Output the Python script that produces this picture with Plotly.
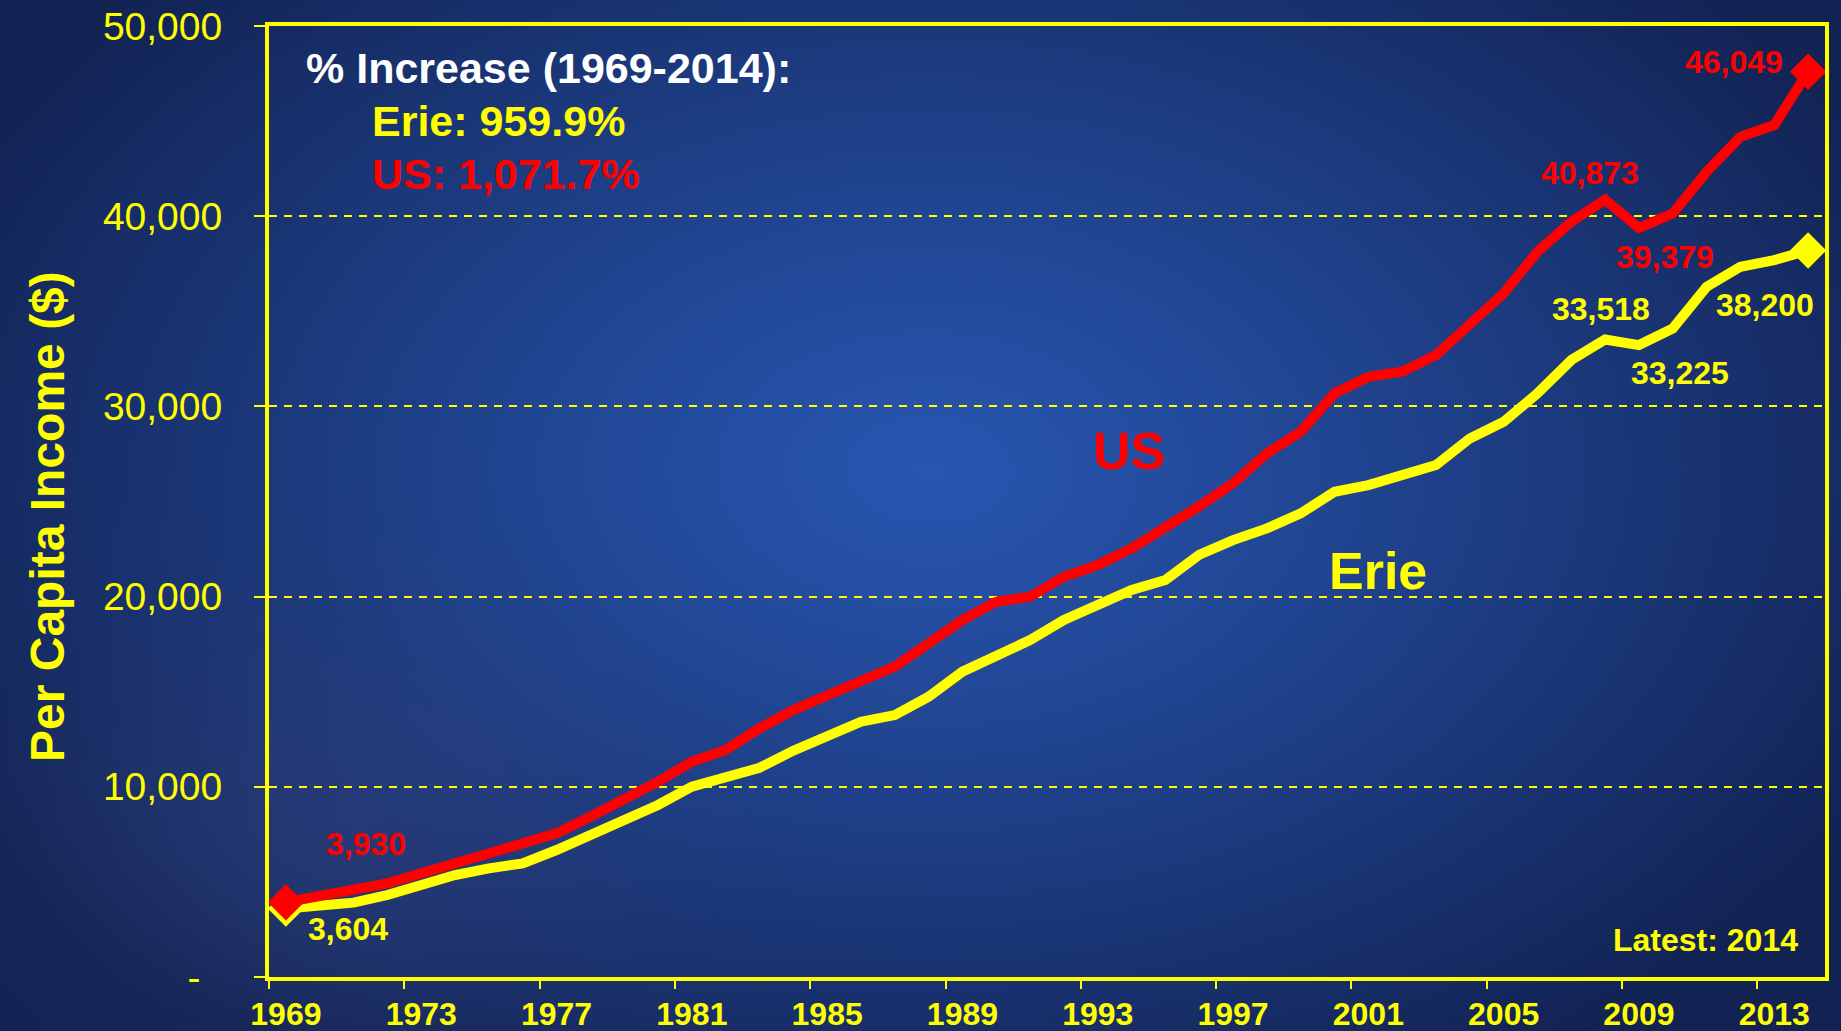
import base64, struct, zlib
import numpy as np
import plotly.graph_objects as go

# ---------------- data ----------------
years = list(range(1969, 2015))
us_income = [3930, 4258, 4521, 4924, 5450, 5975, 6413, 6939, 7552, 8429,
             9305, 10269, 11320, 11933, 13074, 14036, 14800, 15526, 16314, 17541,
             18767, 19731, 19994, 21045, 21659, 22535, 23587, 24750, 25953, 27530,
             28668, 30684, 31559, 31822, 32699, 34364, 35942, 38129, 39706, 40873,
             39379, 40147, 42337, 44175, 44790, 47593]
erie_income = [3604, 3697, 3908, 4310, 4836, 5362, 5713, 5975, 6676, 7465,
               8254, 9042, 10006, 10444, 11000, 11900, 12700, 13423, 13773, 14737,
               16052, 16928, 17716, 18767, 19556, 20345, 20870, 22200, 22973, 23587,
               24375, 25513, 25864, 26390, 26916, 28317, 29193, 30684, 32436, 33518,
               33225, 34101, 36290, 37341, 37693, 38200]
tick_years = list(range(1969, 2014, 4))
y_ticks = [0, 10000, 20000, 30000, 40000, 50000]
y_tick_text = ["-\u00a0\u00a0", "10,000", "20,000", "30,000", "40,000", "50,000"]

us_label_years = [1969, 2008, 2009, 2014]
us_label_text = ["3,930", "40,873", "39,379", "46,049"]
erie_label_years = [1969, 2008, 2009, 2014]
erie_label_text = ["3,604", "33,518", "33,225", "38,200"]

# ---------------- background gradient image ----------------
W, H = 1841, 1031
s = 4
gx, gy = np.meshgrid(np.arange(0, W, s) + s / 2, np.arange(0, H, s) + s / 2)
d = np.sqrt(((gx - 930) / 1100.0) ** 2 + ((gy - 470) / 720.0) ** 2)
t = np.clip(d, 0, 1) ** 1.15
center = np.array([40, 86, 176], float)
edge = np.array([18, 34, 82], float)
img = center[None, None, :] * (1 - t[..., None]) + edge[None, None, :] * t[..., None]
g = 0.45 * np.exp(-(((gx - 330) / 280.0) ** 2 + ((gy - 830) / 200.0) ** 2))
glow = np.array([52, 68, 128], float)
img = img * (1 - g[..., None]) + glow[None, None, :] * g[..., None]
img = np.clip(img, 0, 255).astype(np.uint8)


def to_png(a):
    h, w, _ = a.shape
    raw = b"".join(b"\x00" + a[i].tobytes() for i in range(h))

    def chunk(tag, data):
        c = struct.pack(">I", len(data)) + tag + data
        return c + struct.pack(">I", zlib.crc32(tag + data) & 0xFFFFFFFF)

    return (b"\x89PNG\r\n\x1a\n" + chunk(b"IHDR", struct.pack(">IIBBBBB", w, h, 8, 2, 0, 0, 0))
            + chunk(b"IDAT", zlib.compress(raw, 9)) + chunk(b"IEND", b""))


bg_src = "data:image/png;base64," + base64.b64encode(to_png(img)).decode()

# ---------------- figure ----------------
L, R, T, B = 269, 16, 26, 54
pw, ph = W - L - R, H - T - B
YEL = "#FFFF00"
RED = "#FF0000"
BOLD = "Liberation Sans, Arial, sans-serif"

fig = go.Figure()
fig.add_trace(go.Scatter(
    x=years, y=erie_income, mode="lines", line=dict(color=YEL, width=10),
    cliponaxis=False, hoverinfo="skip"))
fig.add_trace(go.Scatter(
    x=[years[0], years[-1]], y=[erie_income[0], erie_income[-1]], mode="markers",
    marker=dict(symbol="diamond", size=28, color=YEL), cliponaxis=False, hoverinfo="skip"))
fig.add_trace(go.Scatter(
    x=years, y=us_income, mode="lines", line=dict(color=RED, width=10),
    cliponaxis=False, hoverinfo="skip"))
fig.add_trace(go.Scatter(
    x=[years[0], years[-1]], y=[us_income[0], us_income[-1]], mode="markers",
    marker=dict(symbol="diamond", size=28, color=RED), cliponaxis=False, hoverinfo="skip"))

ann = []
us_shift = [(80, 58), (-15, 27), (26, -29), (-74, 10)]
for yr, txt, (dx, dy) in zip(us_label_years, us_label_text, us_shift):
    ann.append(dict(x=yr, y=us_income[years.index(yr)], xref="x", yref="y", text=txt,
                    showarrow=False, xshift=dx, yshift=dy,
                    font=dict(family=BOLD, size=32, color=RED, weight="bold")))
erie_shift = [(62, -21), (-4, 30), (41, -28), (-43, -55)]
for yr, txt, (dx, dy) in zip(erie_label_years, erie_label_text, erie_shift):
    ann.append(dict(x=yr, y=erie_income[years.index(yr)], xref="x", yref="y", text=txt,
                    showarrow=False, xshift=dx, yshift=dy,
                    font=dict(family=BOLD, size=32, color=YEL, weight="bold")))

ann += [
    dict(x=1993.92, y=27655, xref="x", yref="y", text="US", showarrow=False,
         font=dict(family=BOLD, size=52, color=RED, weight="bold")),
    dict(x=2001.29, y=21346, xref="x", yref="y", text="Erie", showarrow=False,
         font=dict(family=BOLD, size=52, color=YEL, weight="bold")),
    dict(x=(304 - L) / pw, y=(H - B - 68) / ph, xref="paper", yref="paper", xanchor="left",
         yanchor="middle", text="% Increase (1969-2014):", showarrow=False,
         font=dict(family=BOLD, size=43, color="white", weight="bold")),
    dict(x=(370 - L) / pw, y=(H - B - 121) / ph, xref="paper", yref="paper", xanchor="left",
         yanchor="middle", text="Erie: 959.9%", showarrow=False,
         font=dict(family=BOLD, size=43, color=YEL, weight="bold")),
    dict(x=(370 - L) / pw, y=(H - B - 174) / ph, xref="paper", yref="paper", xanchor="left",
         yanchor="middle", text="US: 1,071.7%", showarrow=False,
         font=dict(family=BOLD, size=43, color=RED, weight="bold")),
    dict(x=(1800 - L) / pw, y=(H - B - 940) / ph, xref="paper", yref="paper", xanchor="right",
         yanchor="middle", text="Latest: 2014", showarrow=False,
         font=dict(family=BOLD, size=32, color=YEL, weight="bold")),
    dict(x=(47 - L) / pw, y=(H - B - 517) / ph, xref="paper", yref="paper", textangle=-90,
         xanchor="center", yanchor="middle",
         text="Per Capita Income ($)", showarrow=False,
         font=dict(family=BOLD, size=48, color=YEL, weight="bold")),
]

fig.update_layout(
    width=W, height=H, margin=dict(l=L, r=R, t=T, b=B, autoexpand=False),
    paper_bgcolor="#14245a", plot_bgcolor="rgba(0,0,0,0)", showlegend=False,
    annotations=ann,
    images=[dict(source=bg_src, xref="paper", yref="paper", x=-L / pw, y=1 + T / ph,
                 sizex=W / pw, sizey=H / ph, sizing="stretch", layer="below",
                 xanchor="left", yanchor="top")],
    xaxis=dict(range=[1968.5, 2014.5], tickvals=tick_years, ticktext=[str(v) for v in tick_years],
               ticks="", showgrid=False, zeroline=False,
               showline=True, mirror=True, linecolor=YEL, linewidth=4,
               tickfont=dict(family=BOLD, size=32, color=YEL, weight="bold"),
               ticklabelstandoff=6,
               minor=dict(tick0=1968.5, dtick=4, ticks="outside", ticklen=8, tickwidth=2,
                          tickcolor=YEL, showgrid=False)),
    yaxis=dict(range=[0, 50000], tickvals=y_ticks, ticktext=y_tick_text,
               ticks="outside", ticklen=11, tickwidth=2, tickcolor=YEL,
               showgrid=True, gridcolor=YEL, gridwidth=2, griddash="8px,7px",
               zeroline=False, showline=True, mirror=True, linecolor=YEL, linewidth=4,
               tickfont=dict(family="Liberation Sans, Arial, sans-serif", size=39, color=YEL),
               ticklabelstandoff=24),
)

fig.write_html("out.html", config={"displayModeBar": False},
               post_script="document.body.style.margin='0';document.body.style.overflow='hidden';")
